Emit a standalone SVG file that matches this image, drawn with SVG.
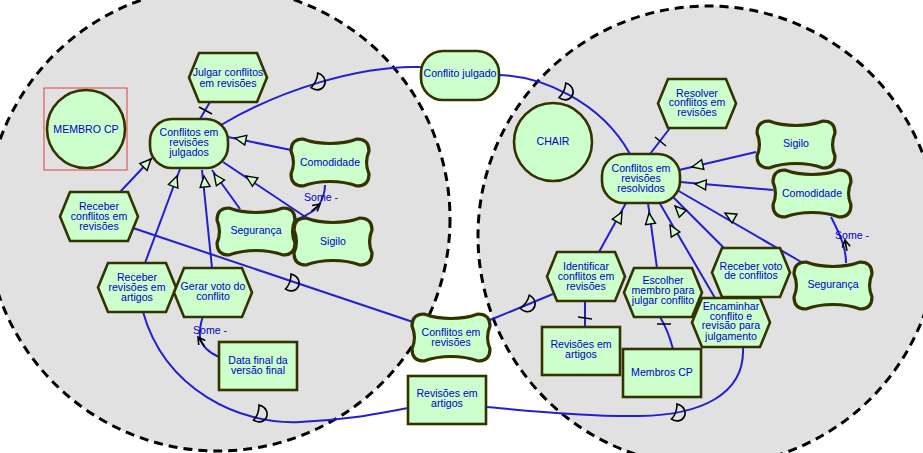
<svg xmlns="http://www.w3.org/2000/svg" width="923" height="453" viewBox="0 0 923 453">
<style>
.bnd{fill:#e1e1e1;stroke:#000;stroke-width:3;stroke-dasharray:9 6}
.nd{fill:#ccffcc;stroke:#333300;stroke-width:2.6}
.sg{fill:#ccffcc;stroke:#333300;stroke-width:3.2}
.ln{fill:none;stroke:#2020d0;stroke-width:2}
.tri{fill:#ccffcc;stroke:#000;stroke-width:1.4}
.dm{fill:none;stroke:#000;stroke-width:1.6}
.tk{stroke:#000;stroke-width:1.5}
.ar{fill:none;stroke:#000;stroke-width:1.6}
text{font-family:"Liberation Sans",Arial,sans-serif;font-size:10.6px;fill:#0000c8;text-anchor:middle}
.lb{text-anchor:start}
</style>
<defs>
<path id="soft" class="sg" d="M12,0 C28,6 50,6 66,0 Q78,0 78,12 C75,19 75,28 78,35 Q78,47 66,47 C50,41 28,41 12,47 Q0,47 0,35 C3,28 3,19 0,12 Q0,0 12,0 Z"/>
<path id="hex" class="nd" d="M0,24.5 L10,0 L68,0 L78,24.5 L68,49 L10,49 Z"/>
<rect id="stad" class="nd" width="78" height="49" rx="22"/>
<rect id="box" class="nd" width="78" height="48"/>
<path id="tri" class="tri" d="M0,0 L-11,-5 L-11,5 Z"/>
<path id="dm" class="dm" d="M-4,-8 C5,-9 8,-2 7,2 C6,7 1,9 -4,8 C-2,3 -2,-3 -4,-8 Z"/>
<path id="ar" class="ar" d="M-7,-4 L0,0 L-7,4 M0,0 L-11,0"/>
</defs>

<g id="boundaries">
<circle class="bnd" cx="218" cy="219" r="232"/>
<circle class="bnd" cx="708" cy="236" r="230"/>
</g>

<g id="connectors">
<path class="ln" d="M210,102 L200,119"/>
<path class="ln" d="M221,125 C280,90 360,65 421,67"/>
<path class="ln" d="M291,150 L228,137"/>
<path class="ln" d="M307,218 L223,162"/>
<path class="ln" d="M240,209 L212,170"/>
<path class="ln" d="M212,268 L202,170"/>
<path class="ln" d="M145,263 L180,169"/>
<path class="ln" d="M120,192 L152,158"/>
<path class="ln" d="M133,228 L413,322"/>
<path class="ln" d="M143,312 C165,390 240,425 300,422 C350,420 380,413 408,408"/>
<path class="ln" d="M219,357 Q203,350 200,338 Q199,328 203,316"/>
<path class="ln" d="M295,220 Q314,213 319,205 Q325,195 325,185"/>
<path class="ln" d="M498,75 C540,76 600,100 630,154"/>
<path class="ln" d="M670,128 L650,154"/>
<path class="ln" d="M756,152 L679,170"/>
<path class="ln" d="M773,190 L680,182"/>
<path class="ln" d="M803,263 L677,190"/>
<path class="ln" d="M724,248 L672,196"/>
<path class="ln" d="M715,298 L659,202"/>
<path class="ln" d="M657,268 L648,203"/>
<path class="ln" d="M599,252 L626,203"/>
<path class="ln" d="M553,294 L490,320"/>
<path class="ln" d="M585,327 L585,301"/>
<path class="ln" d="M673,349 Q668,330 660,317"/>
<path class="ln" d="M743,348 C745,395 700,415 640,416 C580,417 520,410 487,407"/>
<path class="ln" d="M846,263 C846,250 842,238 831,217"/>
</g>

<g id="nodes">
<g id="membro-cp"><rect x="44" y="88" width="83" height="82" fill="none" stroke="#e04040" stroke-width="1"/><circle class="nd" cx="86" cy="129" r="39" stroke-width="3"/><text x="86" y="133">MEMBRO CP</text></g>
<g id="julgar"><use href="#hex" x="189" y="53"/><text x="228" y="76">Julgar conflitos</text><text x="228" y="87">em revisões</text></g>
<g id="julgados"><use href="#stad" x="150" y="119"/><text x="189" y="136">Conflitos em</text><text x="189" y="146">revisões</text><text x="189" y="156">julgados</text></g>
<g id="comodidade-l"><use href="#soft" x="291" y="139"/><text x="330" y="166">Comodidade</text></g>
<g id="seguranca-l"><use href="#soft" x="217" y="208"/><text x="256" y="234">Segurança</text></g>
<g id="sigilo-l"><use href="#soft" x="294" y="218"/><text x="333" y="245">Sigilo</text></g>
<g id="receber-conflitos"><use href="#hex" x="60" y="192"/><text x="99" y="210">Receber</text><text x="99" y="220">conflitos em</text><text x="99" y="230">revisões</text></g>
<g id="receber-revisoes"><use href="#hex" x="98" y="263"/><text x="137" y="281">Receber</text><text x="137" y="291">revisões em</text><text x="137" y="301">artigos</text></g>
<g id="gerar-voto"><use href="#hex" x="174" y="268"/><text x="213" y="290">Gerar voto do</text><text x="213" y="300">conflito</text></g>
<g id="data-final"><use href="#box" x="219" y="342"/><text x="258" y="364">Data final da</text><text x="258" y="374">versão final</text></g>

<g id="conflito-julgado"><use href="#stad" x="421" y="51"/><text x="460" y="77">Conflito julgado</text></g>
<g id="conflitos-revisoes"><use href="#soft" x="412" y="314"/><text x="451" y="336">Conflitos em</text><text x="451" y="346">revisões</text></g>
<g id="revisoes-artigos-m"><use href="#box" x="408" y="376"/><text x="447" y="397">Revisões em</text><text x="447" y="407">artigos</text></g>

<g id="chair"><circle class="nd" cx="553" cy="142" r="39" stroke-width="3"/><text x="553" y="145">CHAIR</text></g>
<g id="resolver"><use href="#hex" x="658" y="79"/><text x="697" y="97">Resolver</text><text x="697" y="106">conflitos em</text><text x="697" y="116">revisões</text></g>
<g id="resolvidos"><use href="#stad" x="602" y="154"/><text x="641" y="172">Conflitos em</text><text x="641" y="182">revisões</text><text x="641" y="192">resolvidos</text></g>
<g id="sigilo-r"><use href="#soft" x="757" y="121"/><text x="796" y="147">Sigilo</text></g>
<g id="comodidade-r"><use href="#soft" x="773" y="170"/><text x="812" y="197">Comodidade</text></g>
<g id="seguranca-r"><use href="#soft" x="794" y="262"/><text x="833" y="288">Segurança</text></g>
<g id="receber-voto"><use href="#hex" x="712" y="248"/><text x="751" y="270">Receber voto</text><text x="751" y="279">de conflitos</text></g>
<g id="identificar"><use href="#hex" x="547" y="252"/><text x="586" y="270">Identificar</text><text x="586" y="280">conflitos em</text><text x="586" y="290">revisões</text></g>
<g id="escolher"><use href="#hex" x="624" y="268"/><text x="663" y="284">Escolher</text><text x="663" y="294">membro para</text><text x="663" y="304">julgar conflito</text></g>
<g id="encaminhar"><use href="#hex" x="692" y="298"/><text x="731" y="310">Encaminhar</text><text x="731" y="320">conflito e</text><text x="731" y="329">revisão para</text><text x="731" y="340">julgamento</text></g>
<g id="revisoes-artigos-r"><use href="#box" x="542" y="327"/><text x="581" y="348">Revisões em</text><text x="581" y="358">artigos</text></g>
<g id="membros-cp"><use href="#box" x="623" y="349"/><text x="662" y="376">Membros CP</text></g>
</g>

<g id="link-decorations">
<use href="#tri" transform="translate(235,138) rotate(191.7)"/>
<use href="#tri" transform="translate(246,176) rotate(213.7)"/>
<use href="#tri" transform="translate(214,174) rotate(234.3)"/>
<use href="#tri" transform="translate(204,176) rotate(264.2)"/>
<use href="#tri" transform="translate(177,176) rotate(290.4)"/>
<use href="#tri" transform="translate(151,159) rotate(313.2)"/>
<use href="#tri" transform="translate(692,167) rotate(166.8)"/>
<use href="#tri" transform="translate(695,184) rotate(184.9)"/>
<use href="#tri" transform="translate(725,213) rotate(210.1)"/>
<use href="#tri" transform="translate(675,206) rotate(225)"/>
<use href="#tri" transform="translate(670,225) rotate(239.7)"/>
<use href="#tri" transform="translate(649,213) rotate(262)"/>
<use href="#tri" transform="translate(622,212) rotate(298.9)"/>
<use href="#dm" transform="translate(318,82) rotate(25)"/>
<use href="#dm" transform="translate(292,283) rotate(20)"/>
<use href="#dm" transform="translate(260,414) rotate(20)"/>
<use href="#dm" transform="translate(566,92) rotate(25)"/>
<use href="#dm" transform="translate(528,304) rotate(35)"/>
<use href="#dm" transform="translate(678,413) rotate(20)"/>
<line class="tk" x1="199" y1="107" x2="212" y2="114"/>
<line class="tk" x1="655" y1="137" x2="666" y2="146"/>
<line class="tk" x1="578" y1="317" x2="592" y2="319"/>
<line class="tk" x1="657" y1="324" x2="671" y2="324"/>
<use href="#ar" transform="translate(320,204) rotate(-40)"/>
<use href="#ar" transform="translate(845,240) rotate(-100)"/>
<use href="#ar" transform="translate(198,337) rotate(-125)"/>
<text class="lb" x="304" y="201">Some -</text>
<text class="lb" x="835" y="239">Some -</text>
<text class="lb" x="193" y="334">Some -</text>
</g>
</svg>
